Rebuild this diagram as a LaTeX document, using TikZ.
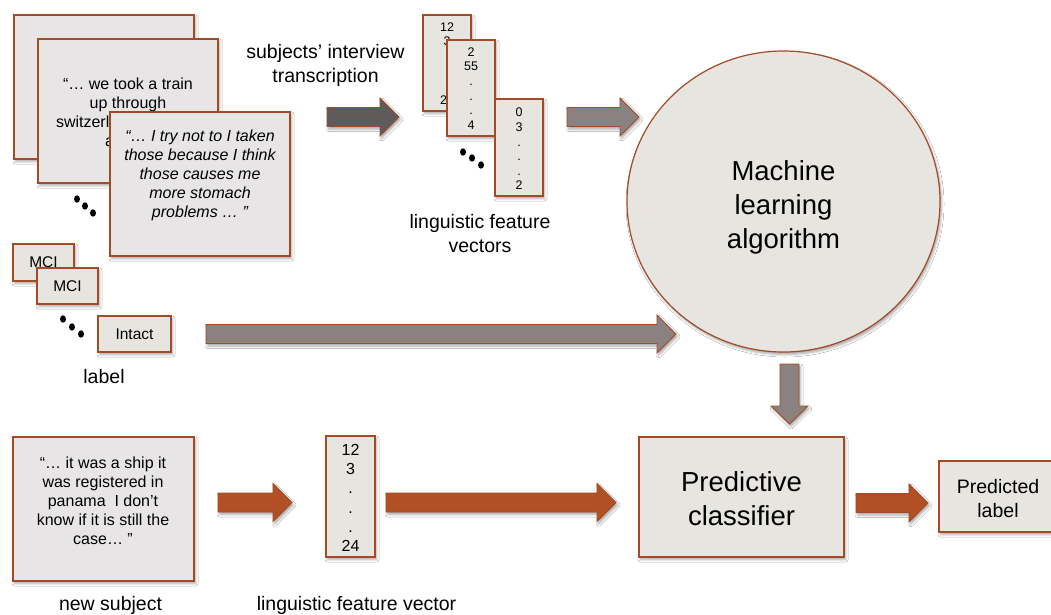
\documentclass[tikz,border=0pt]{standalone}
\usepackage{fontspec}
\setmainfont{Liberation Sans}
\usetikzlibrary{shapes.geometric,shadows.blur,calc}
\definecolor{boxfill}{RGB}{231,229,224}
\definecolor{tfill}{RGB}{231,229,229}
\definecolor{brd}{RGB}{163,74,38}
\definecolor{orng}{RGB}{176,80,36}
\definecolor{garr}{RGB}{139,129,129}
\definecolor{darr}{RGB}{95,91,91}
\tikzset{
  shad/.style={blur shadow={shadow xshift=1.5pt, shadow yshift=-2.5pt, shadow blur radius=2.5pt, shadow opacity=35}},
  box/.style={rectangle, draw=brd, line width=1.3pt, fill=boxfill, shad, inner sep=0pt},
  tbox/.style={box, fill=tfill},
  blk/.style={draw=brd, line width=0.9pt, shad, line join=miter},
  lbl/.style={align=center, inner sep=0pt, font=\fontsize{19.5}{24}\selectfont},
  quote/.style={align=center, inner sep=0pt, font=\fontsize{16}{19}\selectfont},
  vtxt/.style={align=center, inner sep=0pt, font=\fontsize{12.5}{14.6}\selectfont},
  big/.style={align=center, inner sep=0pt, font=\fontsize{27.5}{34}\selectfont},
}
\newcommand\barrow[3]{%
  \draw[blk,#1] let \p1=(#2), \p2=(#3) in
    (\x1,\y1+9.5pt) -- (\x2-19pt,\y1+9.5pt) -- (\x2-19pt,\y1+19pt) -- (\x2,\y1)
    -- (\x2-19pt,\y1-19pt) -- (\x2-19pt,\y1-9.5pt) -- (\x1,\y1-9.5pt) -- cycle;}
\newcommand\barrowdown[3]{%
  \draw[blk,#1] let \p1=(#2), \p2=(#3) in
    (\x1-9.5pt,\y1) -- (\x1-9.5pt,\y2+18pt) -- (\x1-18.5pt,\y2+18pt) -- (\x1,\y2)
    -- (\x1+18.5pt,\y2+18pt) -- (\x1+9.5pt,\y2+18pt) -- (\x1+9.5pt,\y1) -- cycle;}
\newcommand\threedots[3]{%
  \fill (#1) ellipse (3pt and 3.7pt);
  \fill (#2) ellipse (3pt and 3.7pt);
  \fill (#3) ellipse (3pt and 3.7pt);}
\begin{document}
\begin{tikzpicture}[x=1pt,y=-1pt]
\useasboundingbox (0,0) rectangle (1051,614);
\clip (0,0) rectangle (1051,614);
\fill[white] (0,0) rectangle (1051,614);

% transcription boxes
\node[tbox, minimum width=180pt, minimum height=144pt] (t1) at (104,87) {};
\node[tbox, minimum width=180pt, minimum height=144pt] (t2) at (128,111) {};
\node[quote] (t2txt) at (128,112.5) {“… we took a train\\up through\\\makebox[144pt][l]{switzerland}\\\makebox[46pt][l]{a}};
\node[tbox, minimum width=180pt, minimum height=144pt] (t3) at (200,184) {};
\node[quote, font=\fontsize{16}{19}\selectfont\itshape] (t3txt) at (200,175) {“… I try not to I taken\\those because I think\\those causes me\\more stomach\\problems … ”};
\threedots{77,199}{85,206}{93,213}

% labels
\node[box, minimum width=61pt, minimum height=37pt, font=\fontsize{15.5}{18}\selectfont] (m1) at (43.5,262.5) {MCI};
\node[box, minimum width=61pt, minimum height=36pt, font=\fontsize{15.5}{18}\selectfont] (m2) at (67.5,286) {MCI};
\node[box, minimum width=73pt, minimum height=36pt, font=\fontsize{15.5}{18}\selectfont] (m3) at (134.5,334) {Intact};
\threedots{63,319}{72,327}{81,334}
\node[lbl] (lab) at (104,377) {label};

% text above arrow
\node[lbl] (subj) at (325.5,65) {subjects’ interview\\transcription};

% feature vectors
\node[box, minimum width=48pt, minimum height=96pt] (v1) at (447,63) {};
\node[vtxt] (v1txt) at (447,63.5) {12\\3\\\strut\\\strut\\\strut\\24};
\node[box, minimum width=48pt, minimum height=96pt] (v2) at (471,88) {};
\node[vtxt] (v2txt) at (471,88.5) {2\\55\\.\\.\\.\\4};
\node[box, minimum width=48pt, minimum height=97pt] (v3) at (519,147.5) {};
\node[vtxt] (v3txt) at (519,149) {0\\3\\.\\.\\.\\2};
\threedots{463,152}{472,158}{481,165}
\node[lbl] (lfv) at (480,233.5) {linguistic feature\\vectors};

% machine learning
\node[ellipse, draw=brd, line width=1.2pt, fill=boxfill, shad, minimum width=313pt, minimum height=301pt, inner sep=0pt] (ml) at (783.5,201.5) {};
\node[big] (mltxt) at (783.5,207.5) {Machine\\learning\\algorithm};

% predictive classifier
\node[box, minimum width=205pt, minimum height=120pt] (pc) at (741.5,497) {};
\node[big] (pctxt) at (741.5,499) {Predictive\\classifier};
\node[box, minimum width=118pt, minimum height=71pt] (pl) at (998,496.5) {};
\node[lbl] (pltxt) at (998,499) {Predicted\\label};

% new subject
\node[tbox, minimum width=181pt, minimum height=144pt] (ns) at (103.5,509) {};
\node[quote] (nstxt) at (103,501) {“… it was a ship it\\was registered in\\panama~ I don’t\\know if it is still the\\case… ”};
\node[lbl] (nsl) at (110.5,605) {new subject};
\node[box, minimum width=49pt, minimum height=121pt] (v4) at (350.5,496.5) {};
\node[vtxt, font=\fontsize{16}{19.2}\selectfont] (v4txt) at (350.5,498) {12\\3\\.\\.\\.\\24};
\node[lbl] (lfv2) at (356.5,605) {linguistic feature vector};

% block arrows
\coordinate (a1s) at (327,117); \coordinate (a1e) at (399,117);
\coordinate (a2s) at (567,117); \coordinate (a2e) at (639,117);
\coordinate (a3s) at (206,334); \coordinate (a3e) at (676,334);
\coordinate (a4s) at (789.5,364); \coordinate (a4e) at (789.5,424);
\coordinate (a5s) at (856,503); \coordinate (a5e) at (928,503);
\coordinate (a6s) at (218,502.5); \coordinate (a6e) at (292,502.5);
\coordinate (a7s) at (386,502.5); \coordinate (a7e) at (616,502.5);
\barrow{fill=darr}{a1s}{a1e}
\barrow{fill=garr}{a2s}{a2e}
\barrow{fill=garr}{a3s}{a3e}
\barrowdown{fill=garr}{a4s}{a4e}
\barrow{fill=orng}{a5s}{a5e}
\barrow{fill=orng}{a6s}{a6e}
\barrow{fill=orng}{a7s}{a7e}
\end{tikzpicture}
\end{document}
